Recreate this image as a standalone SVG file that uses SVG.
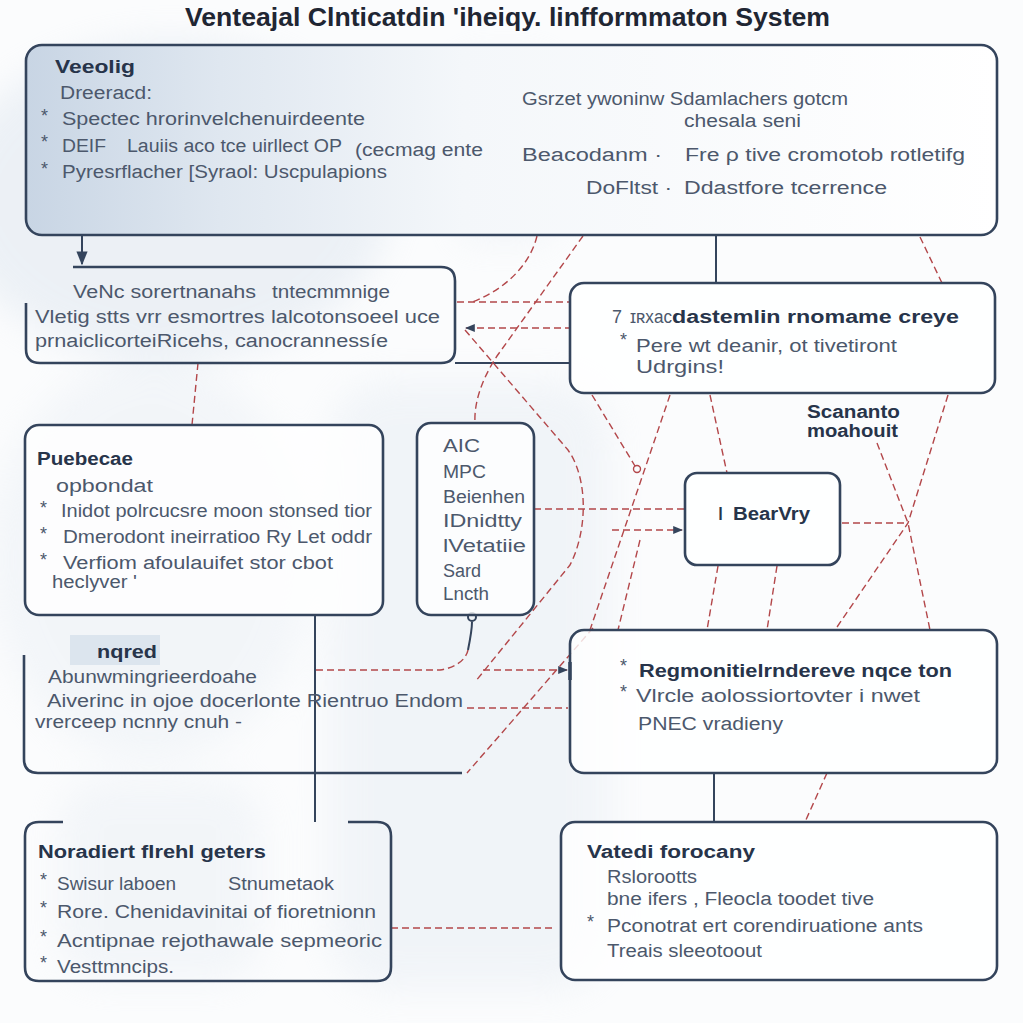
<svg xmlns="http://www.w3.org/2000/svg" width="1023" height="1023" viewBox="0 0 1023 1023">
<defs>
<style>
.box{fill:#ffffff;fill-opacity:0.8;stroke:#34445c;stroke-width:2.6}
.open{fill:none;stroke:#34445c;stroke-width:2.6}
.s{fill:none;stroke:#34445c;stroke-width:2}
.d{fill:none;stroke:#b3474a;stroke-width:1.4;stroke-dasharray:7 4}
.t{font-family:"Liberation Sans",Arial,sans-serif;font-size:18px;fill:#4c586c}
.b{font-weight:bold;fill:#27344a}
.ti{font-family:"Liberation Sans",Arial,sans-serif;font-size:26px;font-weight:bold;fill:#1f2633}
</style>
<linearGradient id="g1" x1="0" y1="0" x2="1" y2="0">
<stop offset="0" stop-color="#c8d5e4"/>
<stop offset="0.2" stop-color="#dfe7f0"/>
<stop offset="0.45" stop-color="#f4f7fa"/>
<stop offset="1" stop-color="#ffffff"/>
</linearGradient>
<filter id="blur" x="-20%" y="-20%" width="140%" height="140%">
<feGaussianBlur stdDeviation="18"/>
</filter>
<marker id="ar" viewBox="0 0 10 10" refX="9" refY="5" markerWidth="7" markerHeight="7" orient="auto-start-reverse">
<path d="M0,1 L10,5 L0,9 z" fill="#34445c"/>
</marker>
</defs>
<rect width="1023" height="1023" fill="#fbfcfd"/>
<g id="background" opacity="0.4" filter="url(#blur)">
<ellipse cx="170" cy="200" rx="220" ry="160" fill="#d6e0eb"/>
<rect x="330" y="380" width="280" height="610" rx="60" fill="#e2e9f1"/>
<ellipse cx="150" cy="560" rx="160" ry="200" fill="#e6ecf3"/>
<rect x="60" y="780" width="200" height="200" rx="40" fill="#e6ecf3"/>
<rect x="460" y="60" width="90" height="180" fill="#e4eaf1"/>
</g>

<text class="ti" x="185" y="26" textLength="645" lengthAdjust="spacingAndGlyphs">Venteajal Clnticatdin 'iheiqy. linfformmaton System</text>

<g id="connectors">
<path class="s" d="M82,235 V264" marker-end="url(#ar)"/>
<path class="s" d="M716,235 V283"/>
<path class="s" d="M455,363 H570"/>
<path class="s" d="M315,615 V822"/>
<path class="s" d="M714,773 V822"/>
<path class="d" d="M537,236 C530,265 505,290 470,303"/>
<path class="d" d="M457,302 H570"/>
<path class="d" d="M466,328 H570" marker-start="url(#ar)"/>
<path class="d" d="M583,236 L497,356 C480,382 474,405 475,423"/>
<path class="d" d="M465,330 L568,450 C588,478 588,530 570,565 L475,682"/>
<path class="d" d="M198,363 L192,425"/>
<path class="d" d="M920,237 L942,283"/>
<path class="d" d="M592,395 L635,466"/>
<circle cx="637" cy="469" r="3.5" fill="none" stroke="#b3474a" stroke-width="1.4"/>
<path class="d" d="M670,395 L590,630"/>
<path class="d" d="M710,395 L727,473"/>
<path class="d" d="M534,509 H684"/>
<path class="d" d="M612,530 H682" marker-end="url(#ar)"/>
<path class="d" d="M640,540 L618,630"/>
<path class="d" d="M718,566 L707,630"/>
<path class="d" d="M777,566 L767,630"/>
<path class="d" d="M877,443 L908,523 L930,630"/>
<path class="d" d="M948,395 L908,523 L835,630"/>
<path class="d" d="M842,523 H908"/>
<path class="d" d="M316,670 H440 C455,668 466,660 468,650"/>
<path class="s" d="M468,650 C470,640 472,630 472,622"/>
<circle cx="472" cy="617" r="4" fill="none" stroke="#34445c" stroke-width="2"/>
<path class="d" d="M483,670 H567" marker-end="url(#ar)"/>
<path class="d" d="M467,708 H568"/>
<path class="d" d="M593,628 L467,773"/>
<path class="d" d="M827,773 L805,822"/>
<path class="d" d="M391,928 H556"/>
</g>

<g id="node-top">
<rect x="26" y="45" width="971" height="190" rx="16" fill="url(#g1)" stroke="#34445c" stroke-width="2.6"/>
<text class="t b" x="55" y="73" font-size="19" textLength="80" lengthAdjust="spacingAndGlyphs">Veeolig</text>
<text class="t" x="60" y="99" font-size="19" textLength="92" lengthAdjust="spacingAndGlyphs">Dreeracd:</text>
<text class="t" x="41" y="122" font-size="14">*</text>
<text class="t" x="62" y="125" font-size="19" textLength="303" lengthAdjust="spacingAndGlyphs">Spectec hrorinvelchenuirdeente</text>
<text class="t" x="41" y="148" font-size="14">*</text>
<text class="t" x="62" y="152" font-size="19" textLength="44" lengthAdjust="spacingAndGlyphs">DEIF</text>
<text class="t" x="127" y="152" font-size="19" textLength="215" lengthAdjust="spacingAndGlyphs">Lauiis aco tce uirllect OP</text>
<text class="t" x="355" y="156" font-size="19" textLength="128" lengthAdjust="spacingAndGlyphs">(cecmag ente</text>
<text class="t" x="41" y="175" font-size="14">*</text>
<text class="t" x="62" y="178" font-size="19" textLength="325" lengthAdjust="spacingAndGlyphs">Pyresrflacher [Syraol: Uscpulapions</text>
<text class="t" x="522" y="105" textLength="326" lengthAdjust="spacingAndGlyphs">Gsrzet ywoninw Sdamlachers gotcm</text>
<text class="t" x="684" y="127" textLength="117" lengthAdjust="spacingAndGlyphs">chesala seni</text>
<text class="t" x="522" y="161" font-size="19" textLength="140" lengthAdjust="spacingAndGlyphs">Beacodanm ·</text>
<text class="t" x="685" y="161" font-size="19" textLength="280" lengthAdjust="spacingAndGlyphs">Fre ρ tive cromotob rotletifg</text>
<text class="t" x="586" y="194" font-size="19" textLength="86" lengthAdjust="spacingAndGlyphs">DoFltst ·</text>
<text class="t" x="684" y="194" font-size="19" textLength="203" lengthAdjust="spacingAndGlyphs">Ddastfore tcerrence</text>
</g>

<g id="node-vehicle">
<path class="open" d="M73,267 H441 Q455,267 455,281 V349 Q455,363 441,363 H40 Q26,363 26,349 V303"/>
<text class="t" x="73" y="298" textLength="183" lengthAdjust="spacingAndGlyphs">VeNc sorertnanahs</text>
<text class="t" x="272" y="298" textLength="118" lengthAdjust="spacingAndGlyphs">tntecmmnige</text>
<text class="t" x="35" y="323" textLength="405" lengthAdjust="spacingAndGlyphs">Vletig stts vrr esmortres lalcotonsoeel uce</text>
<text class="t" x="35" y="347" textLength="353" lengthAdjust="spacingAndGlyphs">prnaiclicorteiRicehs,  canocrannessíe</text>
</g>

<g id="node-right-top">
<rect class="box" x="570" y="283" width="425" height="110" rx="14"/>
<text class="t" x="612" y="323" font-size="19" fill="#27344a">7</text>
<text class="t" x="630" y="323" font-size="13" textLength="42" lengthAdjust="spacingAndGlyphs">ɪʀxac</text>
<text class="t b" x="672" y="323" font-size="19" textLength="287" lengthAdjust="spacingAndGlyphs">dastemlin rnomame creye</text>
<text class="t" x="620" y="346" font-size="13">*</text>
<text class="t" x="636" y="352" textLength="261" lengthAdjust="spacingAndGlyphs">Pere wt deanir, ot tivetiront</text>
<text class="t" x="636" y="373" textLength="88" lengthAdjust="spacingAndGlyphs">Udrgins!</text>
</g>

<g id="label-scanato">
<text class="t b" x="807" y="418" textLength="93" lengthAdjust="spacingAndGlyphs">Scananto</text>
<text class="t b" x="807" y="437" textLength="91" lengthAdjust="spacingAndGlyphs">moahouit</text>
</g>

<g id="node-puebecae">
<rect class="box" x="25" y="425" width="358" height="190" rx="14"/>
<text class="t b" x="37" y="465" fill="#2f4a6e" textLength="96" lengthAdjust="spacingAndGlyphs">Puebecae</text>
<text class="t" x="56" y="492" textLength="97" lengthAdjust="spacingAndGlyphs">opbondat</text>
<text class="t" x="40" y="514" font-size="13">*</text>
<text class="t" x="61" y="517" textLength="311" lengthAdjust="spacingAndGlyphs">Inidot polrcucsre moon stonsed tior</text>
<text class="t" x="40" y="540" font-size="13">*</text>
<text class="t" x="63" y="543" textLength="309" lengthAdjust="spacingAndGlyphs">Dmerodont ineirratioo Ry Let oddr</text>
<text class="t" x="40" y="566" font-size="13">*</text>
<text class="t" x="63" y="569" textLength="270" lengthAdjust="spacingAndGlyphs">Verfiom afoulauifet stor  cbot</text>
<text class="t" x="52" y="588" textLength="85" lengthAdjust="spacingAndGlyphs">heclyver '</text>
</g>

<g id="node-list">
<rect class="box" x="417" y="423" width="117" height="192" rx="14"/>
<text class="t" x="443" y="452" textLength="37" lengthAdjust="spacingAndGlyphs">AIC</text>
<text class="t" x="443" y="478" textLength="43" lengthAdjust="spacingAndGlyphs">MPC</text>
<text class="t" x="443" y="503" textLength="82" lengthAdjust="spacingAndGlyphs">Beienhen</text>
<text class="t" x="443" y="527" textLength="79" lengthAdjust="spacingAndGlyphs">IDnidtty</text>
<text class="t" x="443" y="552" textLength="83" lengthAdjust="spacingAndGlyphs">lVetatiie</text>
<text class="t" x="443" y="577" textLength="38" lengthAdjust="spacingAndGlyphs">Sard</text>
<text class="t" x="443" y="600" textLength="46" lengthAdjust="spacingAndGlyphs">Lncth</text>
</g>

<g id="node-bearvry">
<rect class="box" x="685" y="473" width="155" height="92" rx="12"/>
<text class="t b" x="718" y="520" font-size="20">ǀ</text>
<text class="t b" x="733" y="520" font-size="20" textLength="77" lengthAdjust="spacingAndGlyphs">BearVry</text>
</g>

<g id="node-regmon">
<rect class="box" x="570" y="630" width="427" height="143" rx="14"/>
<path d="M570,662 V680" stroke="#34445c" stroke-width="3.5"/>
<text class="t" x="620" y="672" font-size="13">*</text>
<text class="t b" x="639" y="677" font-size="19" textLength="313" lengthAdjust="spacingAndGlyphs">Regmonitielrndereve nqce ton</text>
<text class="t" x="620" y="698" font-size="13">*</text>
<text class="t" x="636" y="702" textLength="284" lengthAdjust="spacingAndGlyphs">Vlrcle aolossiortovter i nwet</text>
<text class="t" x="638" y="730" textLength="145" lengthAdjust="spacingAndGlyphs">PNEC vradieny</text>
</g>

<g id="node-nqred">
<rect x="70" y="635" width="90" height="30" fill="#d3deea" opacity="0.7"/>
<path class="open" d="M24,655 V759 Q24,773 38,773 H462"/>
<text class="t b" x="97" y="658" textLength="60" lengthAdjust="spacingAndGlyphs">nqred</text>
<text class="t" x="48" y="683" textLength="209" lengthAdjust="spacingAndGlyphs">Abunwmingrieerdoahe</text>
<text class="t" x="47" y="707" textLength="416" lengthAdjust="spacingAndGlyphs">Aiverinc in ojoe docerlonte Rientruo Endom</text>
<text class="t" x="35" y="728" textLength="207" lengthAdjust="spacingAndGlyphs">vrerceep ncnny cnuh -</text>
</g>

<g id="node-noradiert">
<path class="open" d="M63,822 H39 Q25,822 25,836 V967 Q25,981 39,981 H377 Q391,981 391,967 V836 Q391,822 377,822 H348"/>
<text class="t b" x="38" y="858" textLength="228" lengthAdjust="spacingAndGlyphs">Noradiert fIrehl geters</text>
<text class="t" x="40" y="886" font-size="13">*</text>
<text class="t" x="57" y="890" textLength="119" lengthAdjust="spacingAndGlyphs">Swisur laboen</text>
<text class="t" x="228" y="890" textLength="106" lengthAdjust="spacingAndGlyphs">Stnumetaok</text>
<text class="t" x="40" y="914" font-size="13">*</text>
<text class="t" x="57" y="918" textLength="319" lengthAdjust="spacingAndGlyphs">Rore. Chenidavinitai of fioretnionn</text>
<text class="t" x="40" y="943" font-size="13">*</text>
<text class="t" x="57" y="947" textLength="325" lengthAdjust="spacingAndGlyphs">Acntipnae rejothawale sepmeoric</text>
<text class="t" x="40" y="969" font-size="13">*</text>
<text class="t" x="57" y="973" textLength="117" lengthAdjust="spacingAndGlyphs">Vesttmncips.</text>
</g>

<g id="node-vatedi">
<rect class="box" x="561" y="822" width="436" height="158" rx="14"/>
<text class="t b" x="587" y="858" textLength="168" lengthAdjust="spacingAndGlyphs">Vatedi forocany</text>
<text class="t" x="607" y="883" textLength="90" lengthAdjust="spacingAndGlyphs">Rslorootts</text>
<text class="t" x="607" y="905" textLength="267" lengthAdjust="spacingAndGlyphs">bne ifers , Fleocla toodet tive</text>
<text class="t" x="587" y="928" font-size="13">*</text>
<text class="t" x="607" y="932" textLength="316" lengthAdjust="spacingAndGlyphs">Pconotrat ert corendiruatione ants</text>
<text class="t" x="607" y="957" textLength="155" lengthAdjust="spacingAndGlyphs">Treais sleeotoout</text>
</g>
</svg>
